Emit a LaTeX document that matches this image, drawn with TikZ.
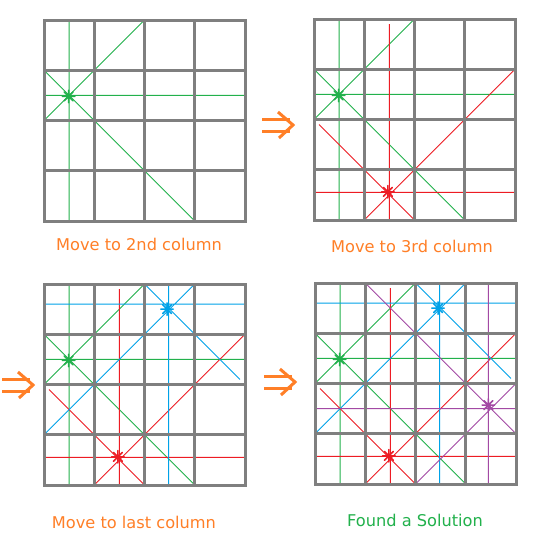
\documentclass[tikz,border=0pt]{standalone}
\usepackage{fontspec}
\setmainfont{DejaVu Sans}
\definecolor{cgreen}{RGB}{34,177,76}
\definecolor{cred}{RGB}{237,28,36}
\definecolor{cblue}{RGB}{0,162,232}
\definecolor{cpurple}{RGB}{163,73,164}
\definecolor{corange}{RGB}{255,127,39}
\definecolor{cgray}{RGB}{127,127,127}
\tikzset{
  gridl/.style={draw=cgray, line width=3pt},
  qline/.style={line width=0.9pt},
  queenmark/.style={circle, minimum size=12pt, inner sep=0pt},
  spoke/.style={line width=1.6pt, line cap=round},
  caption/.style={anchor=base, inner sep=0pt, font=\fontsize{16.2}{18}\selectfont},
  arrowpath/.style={draw=corange, line width=3pt, miter limit=10}
}
\newcommand\boardgrid{%
  \foreach \i in {1,2,3} {\draw[gridl] (\i,0) -- (\i,4); \draw[gridl] (0,\i) -- (4,\i);}
  \draw[gridl] (0,0) rectangle (4,4);}
\newcommand\greenlines{%
  \draw[qline,cgreen] (0.5,0) -- (0.5,4) (0,1.5) -- (4,1.5) (0,2) -- (2,0) (0,1) -- (3,4);}
\newcommand\redlines{%
  \draw[qline,cred] (1.5,0.1) -- (1.5,4) (0,3.45) -- (4,3.45) (1,4) -- (4,1) (0.1,2.1) -- (2,4);}
\newcommand\bluelines{%
  \draw[qline,cblue] (2.48,0) -- (2.48,4) (0,0.4) -- (4,0.4) (0,3) -- (3,0) (2,0) -- (3.9,1.9);}
\newcommand\purplelines{%
  \draw[qline,cpurple] (3.45,0) -- (3.45,4) (0,2.5) -- (4,2.5) (1,0) -- (4,3) (2,4) -- (4,2);}
% #1 name, #2 position, #3 colour
\newcommand\queenstar[3]{%
  \node[queenmark] (#1) at (#2) {};
  \draw[spoke,#3] (#1.north) -- (#1.south) (#1.east) -- (#1.west)
    (#1.north east) -- (#1.south west) (#1.north west) -- (#1.south east);
  \fill[#3] (#1.center) circle (2pt);}
% #1 name, #2 tip position
\newcommand\dblarrow[2]{%
  \coordinate (#1) at (#2);
  \draw[arrowpath] ([shift={(-31,-6)}]#1) -- ([shift={(-3,-6)}]#1)
    ([shift={(-31,6)}]#1) -- ([shift={(-3,6)}]#1);
  \draw[arrowpath] ([shift={(-15,-13)}]#1) -- (#1) -- ([shift={(-14,13)}]#1);}
\begin{document}
\begin{tikzpicture}[x=1pt,y=-1pt]
\useasboundingbox (0,0) rectangle (533,542);
\fill[white] (0,0) rectangle (533,542);
% Board 1
\begin{scope}[shift={(44,20)}, x=50.25pt, y=-50.25pt]
  \greenlines
  \boardgrid
  \queenstar{qa1}{0.49,1.52}{cgreen}
\end{scope}
% Board 2
\begin{scope}[shift={(314,19)}, x=50.25pt, y=-50.25pt]
  \greenlines
  \redlines
  \boardgrid
  \queenstar{qb1}{0.49,1.52}{cgreen}
  \queenstar{qb2}{1.47,3.44}{cred}
\end{scope}
% Board 3
\begin{scope}[shift={(44,284)}, x=50.25pt, y=-50.25pt]
  \greenlines
  \redlines
  \bluelines
  \boardgrid
  \queenstar{qc1}{0.49,1.52}{cgreen}
  \queenstar{qc2}{1.47,3.44}{cred}
  \queenstar{qc3}{2.45,0.5}{cblue}
\end{scope}
% Board 4
\begin{scope}[shift={(315,283)}, x=50.25pt, y=-50.25pt]
  \greenlines
  \redlines
  \bluelines
  \purplelines
  \boardgrid
  \queenstar{qd1}{0.49,1.52}{cgreen}
  \queenstar{qd2}{1.47,3.44}{cred}
  \queenstar{qd3}{2.45,0.5}{cblue}
  \queenstar{qd4}{3.45,2.43}{cpurple}
\end{scope}
% Arrows
\dblarrow{arA}{293,125}
\dblarrow{arB}{33,385}
\dblarrow{arC}{295,382}
% Captions
\node[caption, text=corange] (t1) at (139,250) {Move to 2nd column};
\node[caption, text=corange] (t2) at (412,252) {Move to 3rd column};
\node[caption, text=corange] (t3) at (134,528) {Move to last column};
\node[caption, text=cgreen] (t4) at (415,526.5) {Found a Solution};
\end{tikzpicture}
\end{document}
